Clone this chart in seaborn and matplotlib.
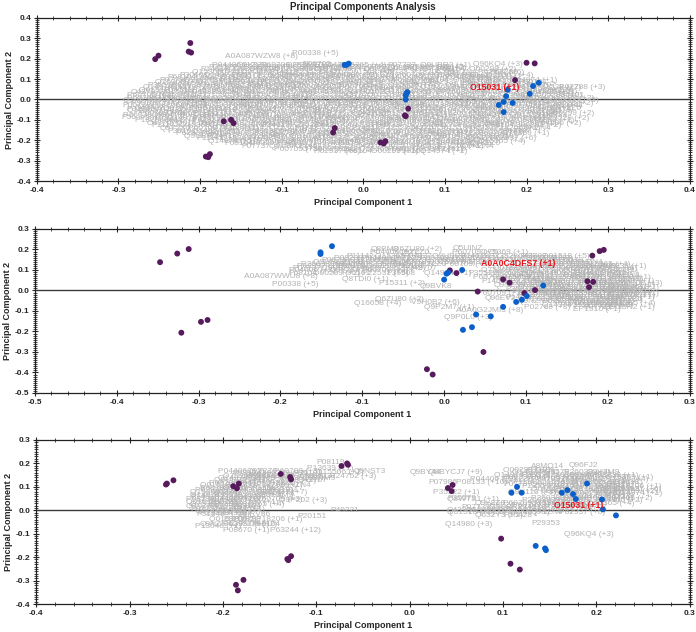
import numpy as np
import pandas as pd
import matplotlib
matplotlib.use("Agg")
import matplotlib.pyplot as plt
from matplotlib.ticker import AutoMinorLocator, FormatStrFormatter, MultipleLocator
import seaborn as sns

# ---------------- data (PC scores) ----------------
# panel 1
p1_purple_x = [-0.255, -0.251, -0.214, -0.211, -0.212, -0.171, -0.162, -0.159, -0.193, -0.188, -0.190,
               -0.035, -0.037, 0.021, 0.025, 0.027, 0.051, 0.052, 0.055, 0.200, 0.210, 0.186]
p1_purple_y = [0.198, 0.215, 0.235, 0.230, 0.277, -0.107, -0.100, -0.116, -0.280, -0.268, -0.283,
               -0.140, -0.162, -0.211, -0.216, -0.205, -0.078, -0.082, -0.045, 0.180, 0.177, 0.095]
p1_blue_x = [-0.023, -0.018, -0.021, 0.053, 0.054, 0.052, 0.052, 0.177, 0.175, 0.172, 0.166, 0.183,
             0.172, 0.204, 0.208, 0.215]
p1_blue_y = [0.170, 0.176, 0.169, 0.030, 0.036, 0.020, 0.000, 0.048, 0.016, -0.012, -0.027, -0.017,
             -0.062, 0.028, 0.066, 0.082]
p1_names = ["A0A087WZW8 (+8)", "P00338 (+5)", "P06702", "H3BND0 (+2)", "P07302 (+7)", "Q96KQ4 (+3)",
            "P63285", "P02788 (+3)", "P31040", "P56...", "Q08380", "P04075 (+4)"]
p1_name_x = [-0.170, -0.087, -0.075, -0.030, 0.070, 0.135, 0.155, 0.240, -0.290, -0.297, 0.030, 0.100]
p1_name_y = [0.210, 0.225, 0.172, 0.158, 0.150, 0.170, 0.130, 0.060, -0.050, -0.090, 0.150, 0.110]
p1_cloud_rows = [
    (0.165, [-0.185, -0.155, -0.125, -0.095, -0.06, -0.03, 0.03, 0.07]),
    (0.145, [-0.2, -0.17, -0.14, -0.11, -0.08, -0.05, 0.0, 0.05, 0.09, 0.13]),
    (0.12, [-0.225, -0.195, -0.16, -0.13, -0.1, -0.07, -0.04, 0.0, 0.04, 0.08, 0.12, 0.15]),
    (0.095, [-0.25, -0.22, -0.19, -0.16, -0.13, -0.1, -0.07, -0.035, 0.0, 0.035, 0.07, 0.11, 0.14, 0.18]),
    (0.07, [-0.265, -0.235, -0.2, -0.17, -0.14, -0.11, -0.08, -0.045, -0.01, 0.03, 0.06, 0.1, 0.13, 0.17, 0.2]),
    (0.045, [-0.275, -0.245, -0.21, -0.18, -0.15, -0.12, -0.085, -0.05, -0.02, 0.015, 0.05, 0.085, 0.12, 0.19, 0.22]),
    (0.02, [-0.29, -0.26, -0.225, -0.195, -0.16, -0.13, -0.1, -0.065, -0.03, 0.005, 0.04, 0.075, 0.11, 0.145, 0.18, 0.21, 0.235]),
    (-0.005, [-0.295, -0.265, -0.235, -0.2, -0.17, -0.135, -0.105, -0.07, -0.04, -0.005, 0.03, 0.065, 0.1, 0.135, 0.17, 0.2, 0.23]),
    (-0.03, [-0.295, -0.26, -0.23, -0.195, -0.165, -0.13, -0.1, -0.065, -0.03, 0.0, 0.035, 0.07, 0.105, 0.14, 0.175, 0.21, 0.235]),
    (-0.055, [-0.29, -0.255, -0.225, -0.19, -0.16, -0.125, -0.09, -0.06, -0.025, 0.01, 0.045, 0.08, 0.115, 0.15, 0.185, 0.22]),
    (-0.08, [-0.295, -0.26, -0.225, -0.195, -0.16, -0.13, -0.095, -0.06, -0.03, 0.005, 0.04, 0.075, 0.11, 0.145, 0.18, 0.215]),
    (-0.105, [-0.28, -0.245, -0.21, -0.18, -0.145, -0.11, -0.08, -0.045, -0.01, 0.025, 0.06, 0.095, 0.13, 0.165, 0.2]),
    (-0.13, [-0.26, -0.225, -0.195, -0.16, -0.125, -0.09, -0.06, -0.025, 0.01, 0.045, 0.08, 0.115, 0.15, 0.185]),
    (-0.155, [-0.24, -0.21, -0.175, -0.14, -0.11, -0.075, -0.04, -0.005, 0.03, 0.065, 0.1, 0.135, 0.17]),
    (-0.18, [-0.22, -0.19, -0.155, -0.12, -0.09, -0.055, -0.02, 0.015, 0.05, 0.085, 0.12, 0.155]),
    (-0.205, [-0.19, -0.16, -0.13, -0.095, -0.06, -0.03, 0.005, 0.04, 0.075, 0.11, 0.14]),
    (-0.23, [-0.15, -0.115, -0.08, -0.045, -0.01, 0.025, 0.06, 0.09, 0.12]),
    (-0.255, [-0.06, -0.025, 0.01, 0.04, 0.07]),
    # in-between rows
    (0.155, [-0.19, -0.16, -0.13, -0.1, -0.07, -0.04, 0.01, 0.05, 0.09]),
    (0.132, [-0.21, -0.18, -0.15, -0.115, -0.085, -0.055, -0.02, 0.02, 0.06, 0.1, 0.14]),
    (0.107, [-0.24, -0.205, -0.175, -0.145, -0.115, -0.085, -0.05, -0.015, 0.02, 0.055, 0.09, 0.125, 0.16]),
    (0.082, [-0.255, -0.225, -0.185, -0.155, -0.125, -0.095, -0.06, -0.025, 0.01, 0.045, 0.08, 0.12, 0.15, 0.19]),
    (0.057, [-0.27, -0.24, -0.205, -0.165, -0.135, -0.1, -0.065, -0.03, 0.0, 0.035, 0.07, 0.105, 0.14, 0.175, 0.21]),
    (0.032, [-0.285, -0.25, -0.215, -0.185, -0.145, -0.115, -0.08, -0.045, -0.01, 0.025, 0.06, 0.095, 0.13, 0.165, 0.2, 0.225]),
    (0.007, [-0.29, -0.255, -0.22, -0.185, -0.15, -0.12, -0.085, -0.05, -0.015, 0.02, 0.055, 0.09, 0.12, 0.155, 0.19, 0.225]),
    (-0.018, [-0.285, -0.25, -0.215, -0.18, -0.15, -0.115, -0.085, -0.05, -0.015, 0.015, 0.05, 0.085, 0.12, 0.155, 0.19, 0.225]),
    (-0.043, [-0.28, -0.245, -0.21, -0.18, -0.145, -0.11, -0.08, -0.045, -0.01, 0.025, 0.06, 0.095, 0.13, 0.165, 0.2, 0.23]),
    (-0.068, [-0.275, -0.24, -0.21, -0.175, -0.145, -0.11, -0.075, -0.045, -0.01, 0.02, 0.055, 0.09, 0.13, 0.165, 0.2, 0.225]),
    (-0.093, [-0.275, -0.24, -0.21, -0.175, -0.14, -0.11, -0.075, -0.045, -0.01, 0.025, 0.06, 0.09, 0.125, 0.16, 0.195, 0.22]),
    (-0.118, [-0.265, -0.23, -0.2, -0.165, -0.13, -0.1, -0.065, -0.03, 0.005, 0.04, 0.075, 0.11, 0.145, 0.18, 0.21]),
    (-0.143, [-0.25, -0.215, -0.185, -0.15, -0.115, -0.085, -0.05, -0.015, 0.02, 0.055, 0.09, 0.125, 0.16, 0.19]),
    (-0.168, [-0.23, -0.2, -0.165, -0.135, -0.1, -0.065, -0.03, 0.005, 0.04, 0.075, 0.11, 0.14, 0.17]),
    (-0.193, [-0.205, -0.175, -0.14, -0.11, -0.075, -0.04, -0.01, 0.025, 0.06, 0.095, 0.125, 0.155]),
    (-0.218, [-0.17, -0.14, -0.105, -0.07, -0.04, -0.005, 0.03, 0.065, 0.1, 0.13]),
    (-0.243, [-0.11, -0.075, -0.04, -0.005, 0.03, 0.06, 0.09]),
]
p1_highlight = ("O15031 (+1)", 0.131, 0.060)

# panel 2
p2_purple_x = [-0.347, -0.326, -0.312, -0.321, -0.297, -0.289, -0.021, -0.014, 0.048, 0.007, 0.015,
               0.041, 0.072, 0.080, 0.098, 0.111, 0.181, 0.190, 0.195, 0.175, 0.182, 0.177]
p2_purple_y = [0.138, 0.180, 0.202, -0.206, -0.153, -0.144, -0.384, -0.410, -0.300, 0.098, 0.085,
               -0.005, 0.054, 0.038, -0.013, 0.002, 0.170, 0.192, 0.198, 0.045, 0.042, 0.016]
p2_blue_x = [-0.151, -0.151, -0.137, 0.000, 0.003, 0.005, 0.022, 0.121, 0.101, 0.095, 0.088, 0.072,
             0.039, 0.057, 0.023, 0.034]
p2_blue_y = [0.186, 0.178, 0.216, 0.053, 0.082, 0.088, 0.100, 0.024, -0.027, -0.045, -0.056, -0.080,
             -0.117, -0.126, -0.192, -0.179]
p2_names = ["Q8BM8", "Q6ZU80 (+2)", "Q5UINZ", "A0A087WWU8 (+8)", "P00338 (+5)", "Q8TDI0 (+1)",
            "P22531 (+5)", "P15311 (+2)", "Q9BVK8", "Q6ZU80 (+2)", "Q16658 (+4)", "V9H0B2 (+6)",
            "Q9P2M7 (+1)", "A0A0G2JMI3 (+8)", "Q9P0L0 (+3)", "Q96EV2", "P02768 (+8)", "EP1510 (+1)",
            "O96758 (+3)", "P35908"]
p2_name_x = [-0.090, -0.062, 0.010, -0.245, -0.210, -0.125, -0.100, -0.080, -0.030, -0.085, -0.110,
             -0.040, -0.025, 0.015, 0.000, 0.050, 0.098, 0.157, 0.100, -0.070]
p2_name_y = [0.200, 0.200, 0.205, 0.070, 0.028, 0.055, 0.085, 0.035, 0.020, -0.045, -0.063, -0.060,
             -0.085, -0.100, -0.130, -0.040, -0.085, -0.095, 0.155, 0.085]
p2_cloud_rows = [
    (0.185, [-0.09, -0.055, 0.01, 0.045]),
    (0.165, [-0.12, -0.085, -0.05, -0.015, 0.02, 0.055, 0.09, 0.12]),
    (0.145, [-0.15, -0.115, -0.08, -0.045, -0.01, 0.03, 0.065, 0.1, 0.135]),
    (0.125, [-0.175, -0.14, -0.105, -0.07, -0.035, 0.0, 0.11, 0.145, 0.17]),
    (0.105, [-0.185, -0.15, -0.115, -0.08, -0.045, 0.06, 0.095, 0.125, 0.155, 0.18]),
    (0.085, [-0.19, -0.16, -0.125, -0.025, 0.03, 0.065, 0.1, 0.13, 0.16, 0.185]),
    (0.065, [0.035, 0.07, 0.1, 0.13, 0.16, 0.19]),
    (0.045, [0.045, 0.08, 0.11, 0.14, 0.17, 0.2]),
    (0.025, [0.06, 0.09, 0.12, 0.15, 0.18, 0.2]),
    (0.005, [0.075, 0.105, 0.135, 0.165, 0.19, 0.205]),
    (-0.015, [0.04, 0.09, 0.12, 0.15, 0.175, 0.2]),
    (-0.035, [0.075, 0.105, 0.135, 0.16, 0.185, 0.2]),
    (-0.055, [0.09, 0.12, 0.15, 0.175, 0.195]),
    (-0.075, [0.12, 0.15, 0.175, 0.19]),
    # in-between rows
    (0.155, [-0.135, -0.1, -0.065, -0.03, 0.01, 0.045, 0.08, 0.115]),
    (0.135, [-0.16, -0.125, -0.09, -0.055, -0.02, 0.015, 0.125, 0.155]),
    (0.115, [-0.18, -0.13, -0.095, -0.06, 0.075, 0.11, 0.14, 0.17, 0.19]),
    (0.095, [-0.19, -0.14, -0.1, 0.045, 0.08, 0.115, 0.145, 0.175, 0.195]),
    (0.075, [0.05, 0.085, 0.115, 0.145, 0.175, 0.2]),
    (0.055, [0.06, 0.095, 0.125, 0.155, 0.185, 0.205]),
    (0.035, [0.075, 0.105, 0.135, 0.165, 0.19, 0.21]),
    (0.015, [0.09, 0.12, 0.15, 0.18, 0.2, 0.215]),
    (-0.005, [0.085, 0.115, 0.145, 0.17, 0.195, 0.215]),
    (-0.025, [0.09, 0.12, 0.15, 0.175, 0.2, 0.21]),
    (-0.045, [0.1, 0.13, 0.16, 0.185, 0.205]),
    (-0.065, [0.135, 0.16, 0.185, 0.2]),
    (-0.085, [0.17, 0.195]),
]
p2_highlight = ("A0A0C4DFS7 (+1)", 0.045, 0.130)

# panel 3
p3_purple_x = [-0.260, -0.253, -0.261, -0.189, -0.183, -0.185, -0.138, -0.128, -0.127, -0.073, -0.067,
               -0.066, -0.127, -0.130, -0.131, -0.186, -0.184, -0.178, 0.041, 0.046, 0.045, 0.098,
               0.108, 0.118]
p3_purple_y = [0.114, 0.128, 0.110, 0.103, 0.114, 0.094, 0.155, 0.142, 0.132, 0.189, 0.200, 0.194,
               -0.196, -0.213, -0.208, -0.318, -0.342, -0.297, 0.095, 0.108, 0.082, -0.121, -0.228,
               -0.253]
p3_blue_x = [0.115, 0.109, 0.120, 0.135, 0.145, 0.146, 0.163, 0.169, 0.175, 0.178, 0.190, 0.206,
             0.207, 0.221]
p3_blue_y = [0.100, 0.075, 0.075, -0.152, -0.163, -0.170, 0.075, 0.086, 0.069, 0.048, 0.114, 0.046,
             0.004, -0.022]
p3_names = ["P08119", "P13639 (+1)", "Q9NST3", "Q15506 (+1)", "P24752 (+3)", "Q9BRG7 (+7)",
            "Q9P202 (+3)", "P31948", "Q8IRV86", "E8FDB7", "P13646 (+1)", "Q9ND8 (+2)", "P08670 (+1)",
            "P63244 (+12)", "P20151", "P49221", "Q9BY44", "Q8BYCJ7 (+9)", "P07986", "P35222 (+1)",
            "Q8WTS1 (+1)", "Q43306", "Q632Y3 (+1)", "P15428", "Q14980 (+3)", "P29353", "Q96KQ4 (+3)",
            "A8MQ14", "Q96FJ2", "Q9H113 (+3)", "P52907 (+3)", "P08133 (+10)", "B4E1Z4 (+3)"]
p3_name_x = [-0.100, -0.110, -0.060, -0.100, -0.085, -0.165, -0.140, -0.228, -0.185, -0.200, -0.230,
             -0.190, -0.200, -0.150, -0.120, -0.085, 0.000, 0.020, 0.020, 0.025, 0.040, 0.040, 0.070,
             0.100, 0.038, 0.130, 0.165, 0.130, 0.170, 0.105, 0.200, 0.050, -0.175]
p3_name_y = [0.205, 0.180, 0.165, 0.160, 0.145, 0.075, 0.040, -0.020, -0.020, -0.040, -0.070, -0.060,
             -0.085, -0.085, -0.025, 0.000, 0.160, 0.160, 0.120, 0.075, 0.045, 0.000, -0.022, -0.022,
             -0.060, -0.058, -0.105, 0.185, 0.190, 0.075, 0.090, 0.120, 0.150]
p3_cloud_rows = [
    (0.165, [-0.205, -0.175, -0.145]),
    (0.145, [-0.2, -0.17, -0.14, -0.11]),
    (0.125, [-0.21, -0.18, -0.15, -0.12]),
    (0.105, [-0.225, -0.195, -0.165, -0.14]),
    (0.085, [-0.23, -0.205, -0.175, -0.15]),
    (0.065, [-0.235, -0.21, -0.185, -0.16]),
    (0.045, [-0.24, -0.215, -0.19, -0.165]),
    (0.025, [-0.235, -0.21, -0.185]),
    (0.005, [-0.235, -0.21, -0.19]),
    (-0.015, [-0.225, -0.2]),
    (-0.04, [-0.215, -0.19, -0.165]),
    (-0.06, [-0.225, -0.2, -0.17]),
    (0.17, [0.1, 0.125]),
    (0.15, [0.09, 0.12, 0.145, 0.17, 0.195]),
    (0.13, [0.065, 0.1, 0.13, 0.155, 0.18, 0.205]),
    (0.11, [0.1, 0.13, 0.16, 0.185, 0.21]),
    (0.09, [0.13, 0.155, 0.18, 0.205, 0.22]),
    (0.07, [0.15, 0.175, 0.2, 0.22]),
    (0.05, [0.04, 0.13, 0.16, 0.19, 0.21]),
    (0.03, [0.07, 0.1, 0.13, 0.165, 0.19]),
    (0.01, [0.055, 0.085, 0.115, 0.145, 0.18]),
    (-0.01, [0.04, 0.07, 0.1, 0.13, 0.16]),
    # in-between rows
    (0.155, [-0.19, -0.16, -0.125]),
    (0.135, [-0.205, -0.175, -0.145, -0.115]),
    (0.115, [-0.215, -0.185, -0.155]),
    (0.095, [-0.225, -0.2, -0.17]),
    (0.075, [-0.235, -0.21, -0.18]),
    (0.055, [-0.235, -0.21, -0.185]),
    (0.035, [-0.24, -0.215, -0.19]),
    (0.015, [-0.24, -0.215, -0.19]),
    (-0.005, [-0.23, -0.205]),
    (0.16, [0.11, 0.14, 0.165, 0.19]),
    (0.14, [0.1, 0.13, 0.16, 0.185, 0.21]),
    (0.12, [0.11, 0.14, 0.17, 0.195, 0.215]),
    (0.1, [0.12, 0.15, 0.175, 0.2, 0.22]),
    (0.08, [0.14, 0.165, 0.19, 0.215]),
    (0.06, [0.16, 0.185, 0.21]),
    (0.04, [0.12, 0.15, 0.175, 0.2]),
    (0.02, [0.08, 0.11, 0.14, 0.17]),
    (0.0, [0.06, 0.09, 0.12]),
]
p3_highlight = ("O15031 (+1)", 0.155, 0.022)

# pool of accession ids used for the unreadable grey labels
filler_ids = ["P04406 (+2)", "Q9Y2Z0", "P60709 (+3)", "O75369 (+1)", "P11142", "Q15365 (+4)",
              "P07737", "Q9UBR2 (+1)", "P14618", "P23528 (+2)", "O43707", "Q01518 (+5)",
              "P06733", "P18206 (+1)", "Q9NZN4", "P62937 (+6)", "P68104", "O00299 (+2)",
              "P30101", "Q14974 (+1)", "P35579", "P26038 (+3)", "Q9H4M9", "P08238 (+1)"]

# ---------------- style ----------------
PURPLE = "#571a5c"
BLUE = "#0b5fc9"
GREY = "#b3b3b3"
RED = "#e8141c"

sns.set_style("ticks")
plt.rcParams["font.family"] = ["Liberation Sans", "DejaVu Sans"]
plt.rcParams["axes.unicode_minus"] = False

fig = plt.figure(figsize=(6.96, 6.32), dpi=100)

panels = [
    dict(px=p1_purple_x, py=p1_purple_y, bx=p1_blue_x, by=p1_blue_y, names=p1_names,
         nx=p1_name_x, ny=p1_name_y, rows=p1_cloud_rows, hl=p1_highlight,
         xlim=(-0.4, 0.4), ylim=(-0.4, 0.4), rect=[0.053, 0.7136, 0.938, 0.258]),
    dict(px=p2_purple_x, py=p2_purple_y, bx=p2_blue_x, by=p2_blue_y, names=p2_names,
         nx=p2_name_x, ny=p2_name_y, rows=p2_cloud_rows, hl=p2_highlight,
         xlim=(-0.5, 0.3), ylim=(-0.5, 0.3), rect=[0.050, 0.3782, 0.941, 0.2595]),
    dict(px=p3_purple_x, py=p3_purple_y, bx=p3_blue_x, by=p3_blue_y, names=p3_names,
         nx=p3_name_x, ny=p3_name_y, rows=p3_cloud_rows, hl=p3_highlight,
         xlim=(-0.4, 0.3), ylim=(-0.4, 0.3), rect=[0.052, 0.0443, 0.939, 0.2595]),
]

for i, p in enumerate(panels):
    ax = fig.add_axes(p["rect"])
    ax.axhline(0, color="#3a3a3a", lw=1.0, zorder=1)

    # grey label cloud
    k = 0
    for y, xs in p["rows"]:
        for x in xs:
            ax.text(x, y, filler_ids[k % len(filler_ids)], color=GREY, fontsize=6,
                    ha="left", va="center", zorder=2)
            k += 1
    for name, x, y in zip(p["names"], p["nx"], p["ny"]):
        ax.text(x, y, name, color=GREY, fontsize=6, ha="left", va="center", zorder=2)

    df = pd.DataFrame({
        "PC1": p["px"] + p["bx"],
        "PC2": p["py"] + p["by"],
        "group": ["a"] * len(p["px"]) + ["b"] * len(p["bx"]),
    })
    sns.scatterplot(data=df, x="PC1", y="PC2", hue="group", palette={"a": PURPLE, "b": BLUE},
                    s=18, linewidth=0, legend=False, ax=ax, zorder=3)

    label, hx, hy = p["hl"]
    ax.text(hx, hy, label, color=RED, fontsize=6.3, fontweight="bold", ha="left", va="center", zorder=4)

    ax.set_xlim(*p["xlim"])
    ax.set_ylim(*p["ylim"])
    ax.xaxis.set_major_locator(MultipleLocator(0.1))
    ax.yaxis.set_major_locator(MultipleLocator(0.1))
    ax.xaxis.set_minor_locator(AutoMinorLocator(5))
    ax.yaxis.set_minor_locator(AutoMinorLocator(10))
    ax.xaxis.set_major_formatter(FormatStrFormatter("%.1f"))
    ax.yaxis.set_major_formatter(FormatStrFormatter("%.1f"))
    ax.tick_params(which="major", direction="inout", length=5, width=0.8, labelsize=6, pad=1.5,
                   top=True, right=True)
    ax.tick_params(which="minor", direction="inout", length=2.5, width=0.6, top=True, right=True)
    for lab in ax.get_xticklabels() + ax.get_yticklabels():
        lab.set_fontweight("bold")
    for s in ax.spines.values():
        s.set_color("#222222")
        s.set_linewidth(0.9)
    ax.set_xlabel("Principal Component 1", fontsize=6.5, fontweight="bold", labelpad=3)
    ax.set_ylabel("Principal Component 2", fontsize=6.5, fontweight="bold", labelpad=2)
    if i == 0:
        ax.set_title("Principal Components Analysis", fontsize=7, fontweight="bold", pad=6)

fig.savefig("out.png", dpi=100)
